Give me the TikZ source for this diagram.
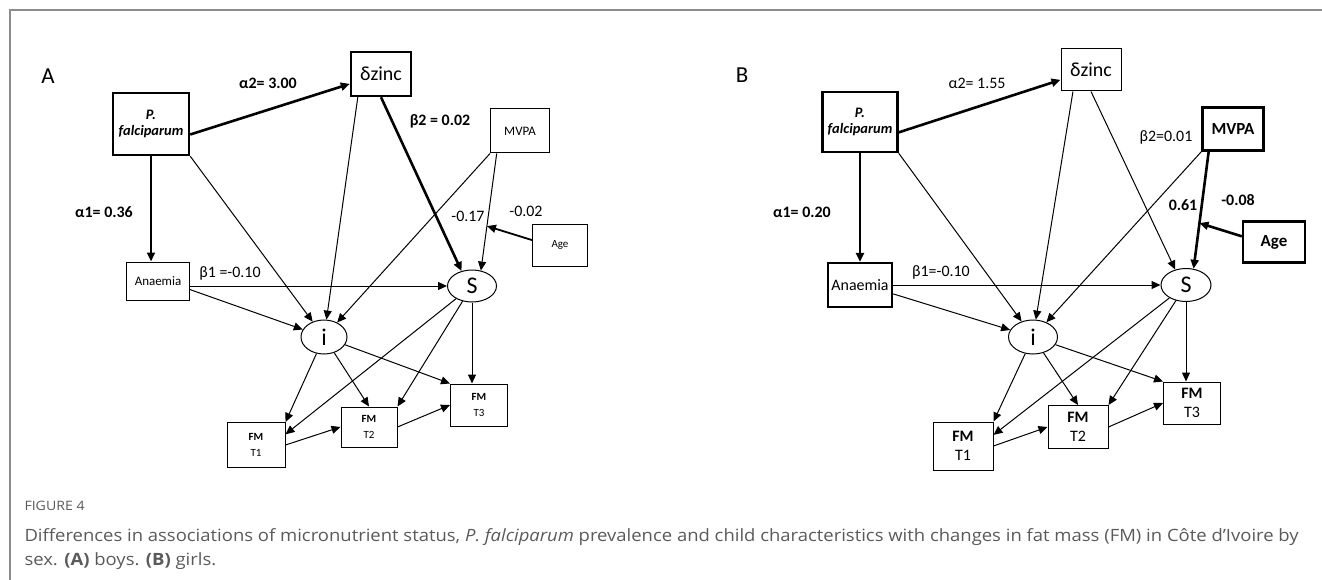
\documentclass[tikz,border=0pt]{standalone}
\usepackage{fontspec}
\setmainfont{Carlito}
\newfontfamily\capfont[FakeStretch=1.09]{Open Sans}
\usepackage{xcolor}
\usepackage{tikz}
\usetikzlibrary{positioning, arrows.meta, shapes.geometric, calc}
\definecolor{frame}{RGB}{140,140,140}
\definecolor{captxt}{RGB}{90,90,90}

\begin{document}
\begin{tikzpicture}[
  x=1bp, y=-1bp,
  var/.style={draw, line width=1bp, inner sep=0pt, align=center,
              font=\fontsize{13}{14}\selectfont},
  key/.style={var, line width=2.4bp},
  lat/.style={draw, ellipse, line width=1bp, inner sep=0pt,
              font=\fontsize{24}{24}\selectfont},
  pth/.style={-{Triangle[length=9bp, width=8bp]}, line width=1bp},
  sig/.style={pth, line width=2.6bp},
  coef/.style={font=\fontsize{16}{16}\selectfont, inner sep=1pt},
  bcoef/.style={coef, font=\fontsize{16}{16}\selectfont\bfseries}]
  \useasboundingbox (0,0) rectangle (1322,580);
  \draw[frame, line width=1.5bp] (10,580) -- (10,10) -- (1322,10);

  % panel A: boys
  \node[font=\fontsize{23}{23}\selectfont] (labA) at (48,76) {A};
  \node[key, minimum width=76bp, minimum height=62bp,
        font=\fontsize{14.5}{16}\selectfont\bfseries\itshape] (pfA) at (151,124) {P.\\falciparum};
  \node[key, minimum width=60bp, minimum height=44bp,
        font=\fontsize{20}{20}\selectfont] (dzA) at (381,74) {δzinc};
  \node[var, minimum width=59bp, minimum height=44bp] (mvA) at (520,131) {MVPA};
  \node[var, minimum width=55bp, minimum height=42bp,
        font=\fontsize{11}{12}\selectfont] (agA) at (560,245) {Age};
  \node[var, minimum width=63bp, minimum height=38bp] (anA) at (158,281) {Anaemia};
  \node[lat, minimum width=49bp, minimum height=32bp] (sA) at (472,286) {S};
  \node[lat, minimum width=46bp, minimum height=34bp] (iA) at (324,337) {i};
  \node[var, minimum width=57bp, minimum height=42bp,
        font=\fontsize{11}{16}\selectfont] (t3A) at (479,405) {\textbf{FM}\\T3};
  \node[var, minimum width=56bp, minimum height=40bp,
        font=\fontsize{11}{16}\selectfont] (t2A) at (369,427) {\textbf{FM}\\T2};
  \node[var, minimum width=58bp, minimum height=45bp,
        font=\fontsize{11}{16}\selectfont] (t1A) at (256,445) {\textbf{FM}\\T1};

  \draw[sig] (pfA.-15) -- (dzA);
  \draw[sig] (pfA.south) -- (pfA.south |- anA.north);
  \draw[pth] (pfA.south east) -- (iA);
  \draw[pth] (dzA.225) -- (iA);
  \draw[sig] (dzA.south) -- (sA.125);
  \draw[pth] (mvA.south west) -- (iA);
  \draw[pth] (mvA.224) -- coordinate[pos=0.62] (mdA) (sA.60);
  \draw[pth, line width=1.8bp] (agA.170) -- (mdA);
  \draw[pth] (anA.east |- sA.west) -- (sA.west);
  \draw[pth] (anA.-15) -- (iA);
  \draw[pth] (iA) -- (t1A.north east);
  \draw[pth] (iA) -- (t2A.north);
  \draw[pth] (iA) -- (t3A.north west);
  \draw[pth] (sA) -- (t1A.20);
  \draw[pth] (sA) -- (t2A.north east);
  \draw[pth] (sA.south) -- (sA.south |- t3A.north);
  \draw[pth] (t1A.east) -- (t2A.west);
  \draw[pth] (t2A.east) -- (t3A.west);

  \node[bcoef] (a2A) at (268,83) {α2= 3.00};
  \node[bcoef] (a1A) at (104,212) {α1= 0.36};
  \node[bcoef] (b2A) at (440,121) {β2 = 0.02};
  \node[coef] (mvcA) at (468,216) {-0.17};
  \node[coef] (agcA) at (526,211) {-0.02};
  \node[coef] (b1A) at (230,273) {β1 =-0.10};

  % panel B: girls
  \node[font=\fontsize{23}{23}\selectfont] (labB) at (742,75) {B};
  \node[key, minimum width=75bp, minimum height=60bp,
        font=\fontsize{14.5}{16}\selectfont\bfseries\itshape] (pfB) at (860,122) {P.\\falciparum};
  \node[var, minimum width=60bp, minimum height=42bp,
        font=\fontsize{20}{20}\selectfont] (dzB) at (1091,70) {δzinc};
  \node[key, minimum width=61bp, minimum height=43bp,
        font=\fontsize{17}{17}\selectfont\bfseries] (mvB) at (1233,129) {MVPA};
  \node[key, minimum width=62bp, minimum height=41bp,
        font=\fontsize{17}{17}\selectfont\bfseries] (agB) at (1274,242) {Age};
  \node[key, minimum width=64bp, minimum height=44bp,
        font=\fontsize{16}{16}\selectfont] (anB) at (860,285) {Anaemia};
  \node[lat, minimum width=50bp, minimum height=33bp] (sB) at (1186,285) {S};
  \node[lat, minimum width=49bp, minimum height=34bp] (iB) at (1033,337) {i};
  \node[var, minimum width=57bp, minimum height=42bp,
        font=\fontsize{16}{19}\selectfont] (t3B) at (1192,403) {\textbf{FM}\\T3};
  \node[var, minimum width=60bp, minimum height=43bp,
        font=\fontsize{16}{19}\selectfont] (t2B) at (1078,427) {\textbf{FM}\\T2};
  \node[var, minimum width=60bp, minimum height=48bp,
        font=\fontsize{16}{19}\selectfont] (t1B) at (963,446) {\textbf{FM}\\T1};

  \draw[sig] (pfB.-15) -- (dzB);
  \draw[sig] (pfB.south) -- (pfB.south |- anB.north);
  \draw[pth] (pfB.south east) -- (iB);
  \draw[pth] (dzB.230) -- (iB);
  \draw[pth] (dzB.south) -- (sB.125);
  \draw[pth] (mvB.south west) -- (iB);
  \draw[sig] (mvB.223) -- coordinate[pos=0.61] (mdB) (sB.65);
  \draw[sig] (agB.170) -- (mdB);
  \draw[pth] (anB.east |- sB.west) -- (sB.west);
  \draw[pth] (anB.-15) -- (iB);
  \draw[pth] (iB) -- (t1B.north east);
  \draw[pth] (iB) -- (t2B.north);
  \draw[pth] (iB) -- (t3B.north west);
  \draw[pth] (sB) -- (t1B.20);
  \draw[pth] (sB) -- (t2B.north east);
  \draw[pth] (sB.south) -- (sB.south |- t3B.north);
  \draw[pth] (t1B.east) -- (t2B.west);
  \draw[pth] (t2B.east) -- (t3B.west);

  \node[coef] (a2B) at (977,83) {α2= 1.55};
  \node[bcoef] (a1B) at (802,212) {α1= 0.20};
  \node[coef] (b2B) at (1166,137) {β2=0.01};
  \node[bcoef] (mvcB) at (1183,205) {0.61};
  \node[bcoef] (agcB) at (1238,200) {-0.08};
  \node[coef] (b1B) at (941,272) {β1=-0.10};

  % caption
  \node[anchor=base west, text=captxt, font=\capfont\fontsize{13}{13}\selectfont] (fig) at (21,510) {FIGURE 4};
  \node[anchor=base west, text=captxt, font=\capfont\fontsize{17}{17}\selectfont] (cap1) at (21,541)
    {Differences in associations of micronutrient status, \textit{P. falciparum} prevalence and child characteristics with changes in fat mass (FM) in Côte d’Ivoire by};
  \node[anchor=base west, text=captxt, font=\capfont\fontsize{17}{17}\selectfont] (cap2) at (21,565)
    {sex. \textbf{(A)} boys. \textbf{(B)} girls.};
\end{tikzpicture}
\end{document}
